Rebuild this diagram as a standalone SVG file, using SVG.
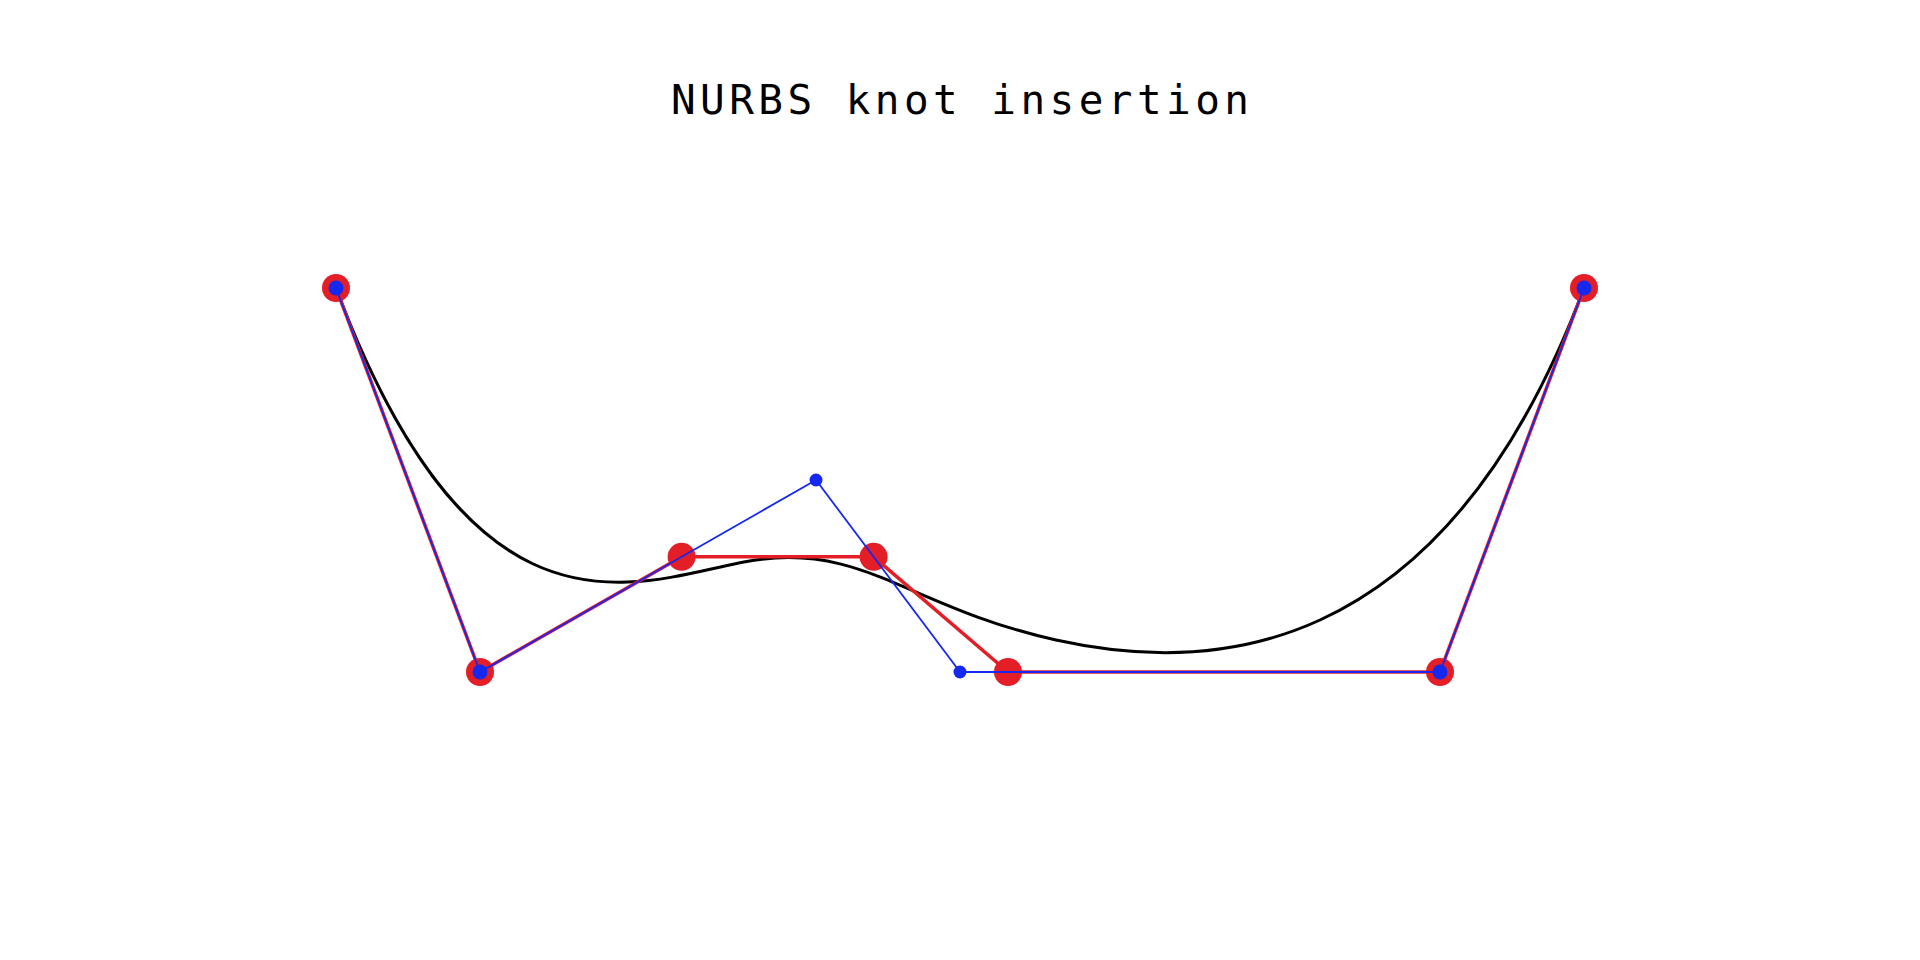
<svg xmlns="http://www.w3.org/2000/svg" width="1920" height="960" viewBox="0 0 1920 960">
<style>
.title{font-family:"DejaVu Sans Mono","Liberation Mono",monospace;font-size:41px;fill:#000}
.curve{fill:none;stroke:#000;stroke-width:3}
.redpoly{fill:none;stroke:#e41e26;stroke-width:3.5;stroke-linejoin:round}
.bluepoly{fill:none;stroke:#1428f0;stroke-width:1.8;stroke-linejoin:round}
.redpt{fill:#e41e26}
.bluept{fill:#1428f0}
</style>
<rect width="1920" height="960" fill="#fff"/>
<text class="title" x="671" y="114" textLength="578" lengthAdjust="spacing">NURBS knot insertion</text>
<g id="connectors">
<path id="curve" class="curve" d="M336,288 C480,672 648,576 756,560 C864,544 912,608 1056,640 C1200,672 1440,672 1584,288"/>
<polyline id="refined-polygon" class="redpoly" points="336,288 480,672 681.6,556.8 873.6,556.8 1008,672 1440,672 1584,288"/>
</g>
<g id="refined-points">
<circle id="q0" class="redpt" cx="336" cy="288" r="14"/>
<circle id="q1" class="redpt" cx="480" cy="672" r="14"/>
<circle id="q2" class="redpt" cx="681.6" cy="556.8" r="14"/>
<circle id="q3" class="redpt" cx="873.6" cy="556.8" r="14"/>
<circle id="q4" class="redpt" cx="1008" cy="672" r="14"/>
<circle id="q5" class="redpt" cx="1440" cy="672" r="14"/>
<circle id="q6" class="redpt" cx="1584" cy="288" r="14"/>
</g>
<g id="original-polygon-group">
<polyline id="original-polygon" class="bluepoly" points="336,288 480,672 816,480 960,672 1440,672 1584,288"/>
</g>
<g id="original-points">
<circle id="p0" class="bluept" cx="336" cy="288" r="7.5"/>
<circle id="p1" class="bluept" cx="480" cy="672" r="7.5"/>
<circle id="p2" class="bluept" cx="816" cy="480" r="6.5"/>
<circle id="p3" class="bluept" cx="960" cy="672" r="6.5"/>
<circle id="p4" class="bluept" cx="1440" cy="672" r="7.5"/>
<circle id="p5" class="bluept" cx="1584" cy="288" r="7.5"/>
</g>
</svg>
